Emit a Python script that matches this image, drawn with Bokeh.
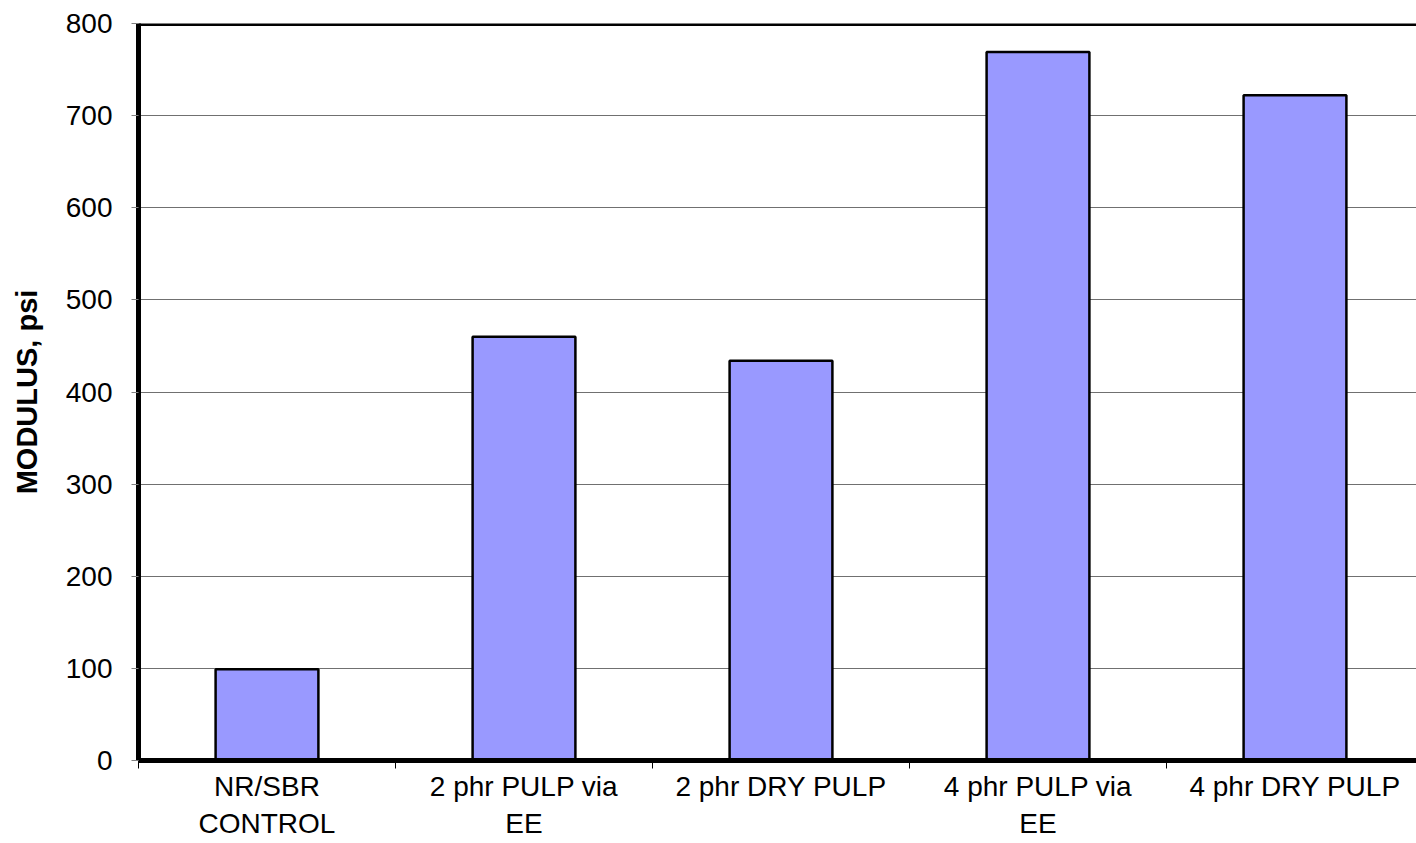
from bokeh.plotting import figure
from bokeh.models import FixedTicker, Span, Range1d
from bokeh.embed import file_html
from bokeh.resources import INLINE

categories = ["NR/SBR\nCONTROL", "2 phr PULP via\nEE", "2 phr DRY PULP",
              "4 phr PULP via\nEE", "4 phr DRY PULP"]
modulus = [99, 460, 434, 769, 722]
y_ticks = [0, 100, 200, 300, 400, 500, 600, 700, 800]

centers = [i + 0.5 for i in range(len(categories))]
bounds = list(range(len(categories) + 1))

p = figure(width=1416, height=843, output_backend="svg", toolbar_location=None,
           x_range=Range1d(0, 1278 / 257), y_range=Range1d(0, 800),
           min_border_left=138, min_border_top=23, min_border_bottom=83,
           min_border_right=0)
p.outline_line_color = None
p.background_fill_color = "white"
p.border_fill_color = "white"

p.vbar(x=centers, top=modulus, width=0.4, bottom=0,
       fill_color="#9999FF", line_color="black", line_width=2.5)

# x axis
xa = p.xaxis[0]
xa.ticker = FixedTicker(ticks=centers, minor_ticks=bounds)
xa.major_label_overrides = {c: lab for c, lab in zip(centers, categories)}
xa.major_tick_line_color = None
xa.major_tick_out = 8
xa.major_tick_in = 0
xa.minor_tick_out = 8
xa.minor_tick_in = 0
xa.minor_tick_line_color = "black"
xa.minor_tick_line_width = 1
xa.axis_line_width = 5
xa.axis_line_color = "black"
xa.major_label_text_font = "Liberation Sans"
xa.major_label_text_font_size = "28px"
xa.major_label_text_color = "black"
xa.major_label_standoff = 2

# y axis
ya = p.yaxis[0]
ya.ticker = FixedTicker(ticks=y_ticks)
ya.major_tick_out = 7
ya.major_tick_in = 0
ya.minor_tick_line_color = None
ya.major_tick_line_color = "#808080"
ya.axis_line_width = 5
ya.axis_line_color = "black"
ya.major_label_text_font = "Liberation Sans"
ya.major_label_text_font_size = "28px"
ya.major_label_text_color = "black"
ya.major_label_standoff = 19
ya.axis_label = "MODULUS, psi"
ya.axis_label_text_font = "Liberation Sans"
ya.axis_label_text_font_size = "29px"
ya.axis_label_text_font_style = "bold"
ya.axis_label_text_color = "black"
ya.axis_label_standoff = 20

p.xgrid.grid_line_color = None
p.ygrid.ticker = FixedTicker(ticks=y_ticks)
p.ygrid.grid_line_color = "#707070"
p.ygrid.grid_line_width = 1

p.add_layout(Span(location=800, dimension="width", line_color="black", line_width=5))

open("out.html", "w").write(file_html(p, INLINE))
